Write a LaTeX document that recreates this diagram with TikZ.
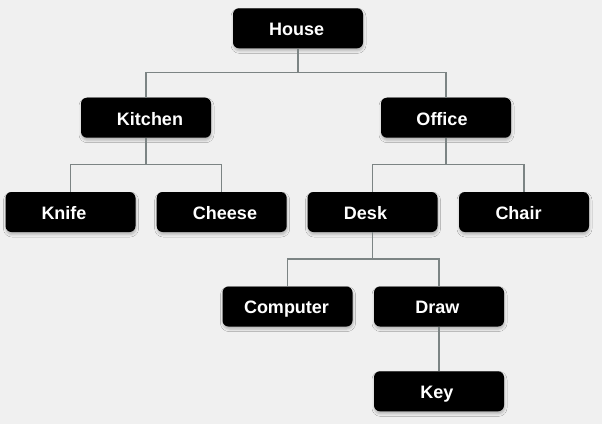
\documentclass[tikz,border=0pt]{standalone}
\usepackage{fontspec}
\setmainfont{Liberation Sans}
\usetikzlibrary{shadows.blur}
\definecolor{bg}{HTML}{F0F0F0}
\definecolor{conn}{HTML}{7C8484}
\tikzset{
  box/.style={draw=none, fill=black, rounded corners=6pt, minimum width=130pt,
    minimum height=40pt, inner sep=0pt, text=white, text height=14.6pt, text depth=0pt,
    font=\fontsize{18}{20}\selectfont\bfseries,
    blur shadow={shadow xshift=0.5pt, shadow yshift=-2.5pt, shadow blur radius=2.5pt, shadow opacity=25}},
  link/.style={draw=conn, line width=1.1pt}
}
\begin{document}
\begin{tikzpicture}[x=1pt,y=-1pt]
\useasboundingbox[fill=bg] (0,0) rectangle (602,424);
\node[box] (house) at (298,28.3) {\hspace*{-2.6pt}House\hspace*{0pt}};
\node[box] (kitchen) at (146,117.7) {\hspace*{8pt}Kitchen};
\node[box] (office) at (446,117.7) {Office\hspace*{8pt}};
\node[box] (knife) at (70.5,212) {Knife\hspace*{13pt}};
\node[box] (cheese) at (221.7,212) {\hspace*{6.6pt}Cheese};
\node[box] (desk) at (372.5,212) {Desk\hspace*{14pt}};
\node[box] (chair) at (524,212) {Chair\hspace*{11pt}};
\node[box] (computer) at (287.5,306.5) {Computer\hspace*{2pt}};
\node[box] (draw) at (439,306.5) {Draw\hspace*{3.4pt}};
\node[box] (key) at (439,391.3) {Key\hspace*{4pt}};
\coordinate (b1) at (298,72.3);
\coordinate (b2) at (146,164.7);
\coordinate (b3) at (446,164.7);
\coordinate (b4) at (372.5,259);
\draw[link] (house.south) -- (b1) -| (kitchen.north);
\draw[link] (b1) -| (office.north);
\draw[link] (kitchen.south) -- (b2) -| (knife.north);
\draw[link] (b2) -| (cheese.north);
\draw[link] (office.south) -- (b3) -| (desk.north);
\draw[link] (b3) -| (chair.north);
\draw[link] (desk.south) -- (b4) -| (computer.north);
\draw[link] (b4) -| (draw.north);
\draw[link] (draw.south) -- (key.north);
\end{tikzpicture}
\end{document}
